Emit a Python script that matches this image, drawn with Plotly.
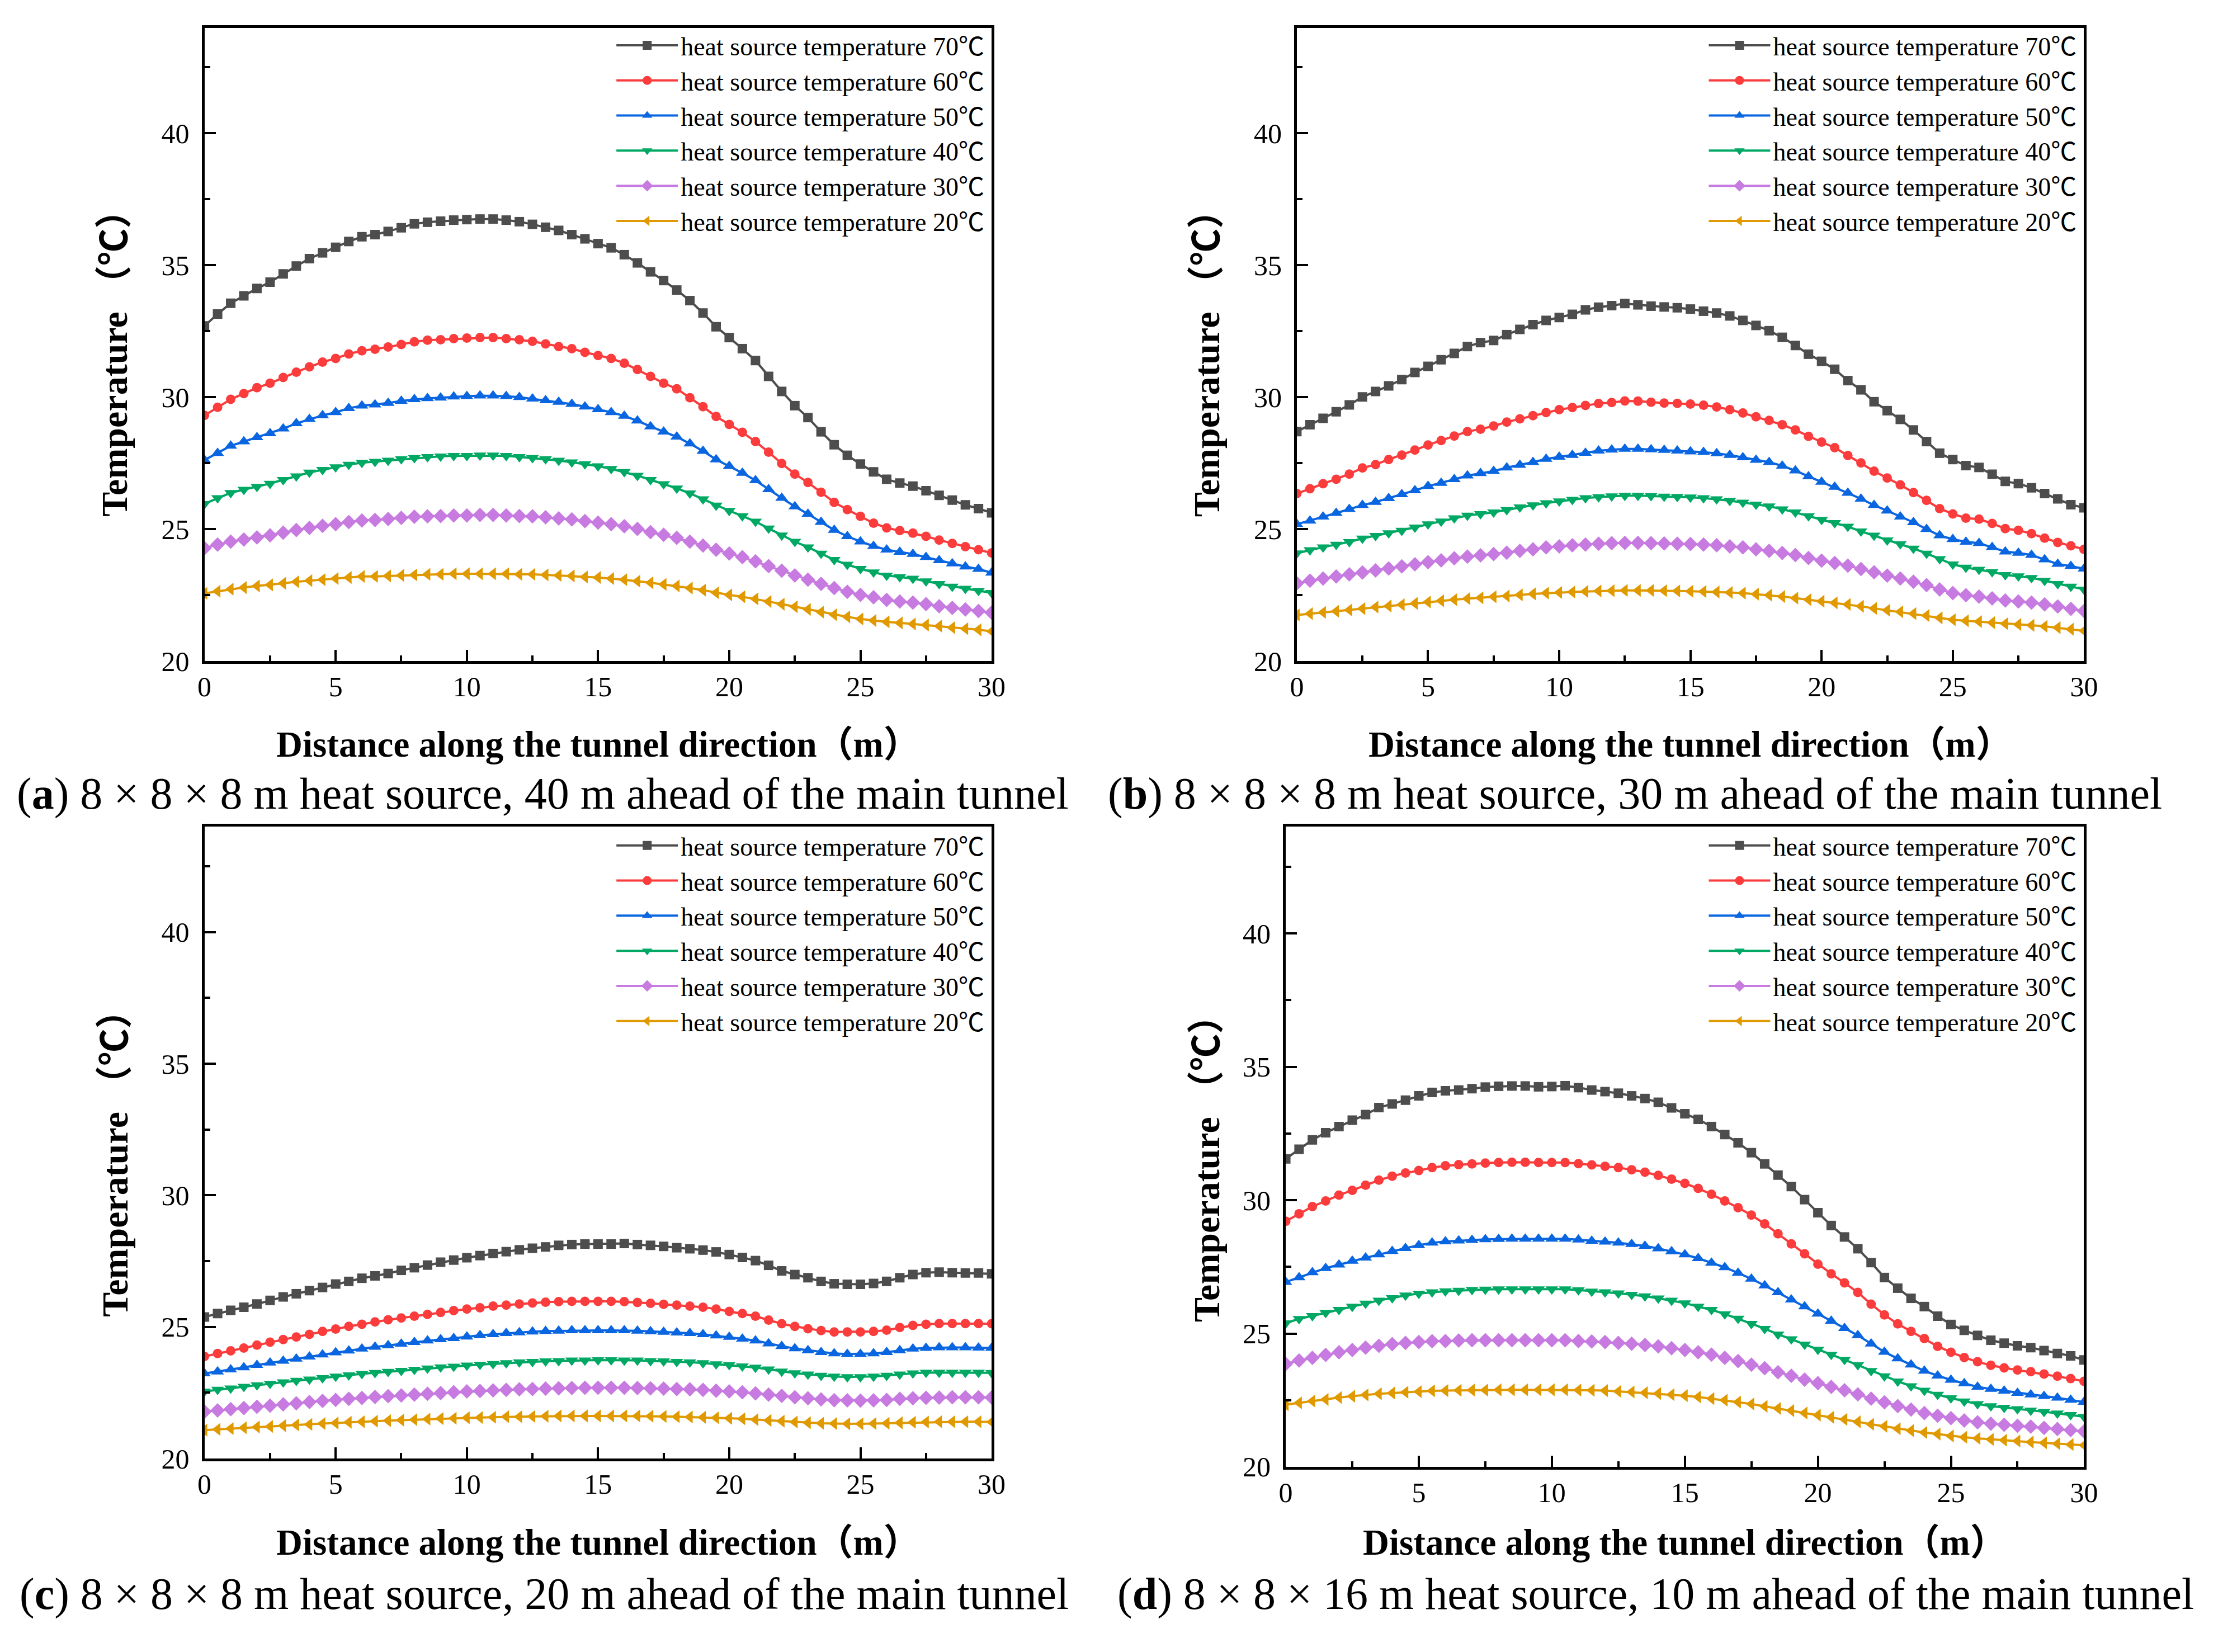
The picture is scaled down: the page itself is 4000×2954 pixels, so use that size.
import plotly.graph_objects as go
from plotly.subplots import make_subplots

# distance along the tunnel (m), one reading every 0.5 m
DISTANCE = [
    0.0, 0.5, 1.0, 1.5, 2.0, 2.5, 3.0, 3.5, 4.0, 4.5,
    5.0, 5.5, 6.0, 6.5, 7.0, 7.5, 8.0, 8.5, 9.0, 9.5,
    10.0, 10.5, 11.0, 11.5, 12.0, 12.5, 13.0, 13.5, 14.0, 14.5,
    15.0, 15.5, 16.0, 16.5, 17.0, 17.5, 18.0, 18.5, 19.0, 19.5,
    20.0, 20.5, 21.0, 21.5, 22.0, 22.5, 23.0, 23.5, 24.0, 24.5,
    25.0, 25.5, 26.0, 26.5, 27.0, 27.5, 28.0, 28.5, 29.0, 29.5,
    30.0,
]

SOURCE_TEMPS = [70, 60, 50, 40, 30, 20]

# (a) 8x8x8 m, 40 m ahead
A_70 = [32.70, 33.15, 33.56, 33.84, 34.12, 34.36, 34.67, 34.97, 35.25, 35.47,
        35.68, 35.90, 36.08, 36.16, 36.28, 36.42, 36.57, 36.63, 36.67, 36.71,
        36.73, 36.75, 36.75, 36.71, 36.65, 36.55, 36.44, 36.32, 36.16, 36.00,
        35.82, 35.66, 35.40, 35.09, 34.75, 34.42, 34.06, 33.66, 33.19, 32.67,
        32.26, 31.84, 31.39, 30.79, 30.22, 29.68, 29.23, 28.69, 28.20, 27.80,
        27.47, 27.17, 26.89, 26.75, 26.63, 26.46, 26.28, 26.10, 25.92, 25.78,
        25.62]
A_60 = [29.31, 29.62, 29.92, 30.14, 30.36, 30.53, 30.75, 30.95, 31.15, 31.33,
        31.47, 31.64, 31.76, 31.82, 31.90, 32.00, 32.10, 32.16, 32.18, 32.22,
        32.24, 32.26, 32.26, 32.22, 32.18, 32.12, 32.02, 31.92, 31.84, 31.70,
        31.58, 31.47, 31.29, 31.05, 30.79, 30.53, 30.32, 29.98, 29.64, 29.27,
        28.97, 28.67, 28.32, 27.92, 27.49, 27.09, 26.77, 26.40, 26.02, 25.74,
        25.49, 25.23, 25.05, 24.95, 24.85, 24.73, 24.59, 24.46, 24.34, 24.22,
        24.10]
A_50 = [27.62, 27.88, 28.16, 28.32, 28.48, 28.63, 28.81, 29.01, 29.17, 29.31,
        29.43, 29.58, 29.68, 29.72, 29.78, 29.86, 29.92, 29.96, 29.98, 30.02,
        30.04, 30.06, 30.06, 30.04, 30.00, 29.94, 29.88, 29.82, 29.74, 29.64,
        29.54, 29.43, 29.29, 29.11, 28.89, 28.69, 28.50, 28.24, 27.96, 27.64,
        27.39, 27.13, 26.85, 26.51, 26.18, 25.86, 25.58, 25.27, 24.97, 24.73,
        24.53, 24.36, 24.22, 24.14, 24.06, 23.94, 23.82, 23.70, 23.58, 23.49,
        23.35]
A_40 = [25.96, 26.18, 26.38, 26.50, 26.61, 26.73, 26.87, 27.01, 27.15, 27.25,
        27.35, 27.45, 27.52, 27.56, 27.60, 27.66, 27.70, 27.74, 27.76, 27.78,
        27.78, 27.80, 27.80, 27.78, 27.74, 27.70, 27.66, 27.60, 27.54, 27.47,
        27.39, 27.29, 27.17, 27.03, 26.87, 26.71, 26.55, 26.36, 26.14, 25.90,
        25.70, 25.50, 25.29, 25.03, 24.77, 24.53, 24.32, 24.08, 23.84, 23.66,
        23.50, 23.37, 23.25, 23.19, 23.13, 23.03, 22.93, 22.83, 22.75, 22.67,
        22.59]
A_30 = [24.28, 24.42, 24.53, 24.61, 24.69, 24.77, 24.87, 24.97, 25.05, 25.13,
        25.19, 25.27, 25.33, 25.35, 25.39, 25.43, 25.47, 25.49, 25.50, 25.52,
        25.52, 25.54, 25.54, 25.52, 25.50, 25.49, 25.45, 25.41, 25.37, 25.31,
        25.25, 25.19, 25.11, 25.01, 24.89, 24.79, 24.67, 24.53, 24.38, 24.22,
        24.08, 23.94, 23.78, 23.60, 23.43, 23.25, 23.09, 22.93, 22.77, 22.63,
        22.51, 22.42, 22.32, 22.26, 22.22, 22.16, 22.08, 22.02, 21.96, 21.90,
        21.84]
A_20 = [22.57, 22.65, 22.73, 22.79, 22.85, 22.89, 22.95, 23.01, 23.05, 23.09,
        23.13, 23.17, 23.21, 23.21, 23.23, 23.25, 23.27, 23.29, 23.29, 23.31,
        23.31, 23.31, 23.31, 23.31, 23.29, 23.29, 23.27, 23.25, 23.23, 23.19,
        23.17, 23.13, 23.09, 23.03, 22.97, 22.91, 22.85, 22.77, 22.69, 22.59,
        22.51, 22.44, 22.36, 22.26, 22.16, 22.06, 21.96, 21.86, 21.76, 21.68,
        21.60, 21.54, 21.49, 21.45, 21.41, 21.37, 21.33, 21.27, 21.23, 21.19,
        21.13]

# (b) 8x8x8 m, 30 m ahead
B_70 = [28.70, 28.96, 29.20, 29.45, 29.71, 30.01, 30.22, 30.43, 30.67, 30.94,
        31.17, 31.42, 31.66, 31.92, 32.07, 32.15, 32.37, 32.57, 32.75, 32.91,
        33.02, 33.14, 33.31, 33.41, 33.47, 33.55, 33.50, 33.45, 33.42, 33.39,
        33.34, 33.26, 33.19, 33.08, 32.91, 32.72, 32.52, 32.27, 31.96, 31.63,
        31.36, 31.06, 30.63, 30.28, 29.83, 29.49, 29.16, 28.76, 28.32, 27.88,
        27.64, 27.41, 27.34, 27.08, 26.81, 26.73, 26.57, 26.35, 26.15, 25.93,
        25.81]
B_60 = [26.35, 26.53, 26.72, 26.89, 27.09, 27.32, 27.45, 27.64, 27.81, 28.00,
        28.19, 28.36, 28.53, 28.70, 28.79, 28.91, 29.06, 29.18, 29.30, 29.42,
        29.53, 29.61, 29.69, 29.76, 29.80, 29.86, 29.85, 29.81, 29.78, 29.77,
        29.74, 29.70, 29.63, 29.53, 29.40, 29.26, 29.12, 28.96, 28.76, 28.52,
        28.30, 28.09, 27.79, 27.51, 27.20, 26.94, 26.68, 26.39, 26.09, 25.78,
        25.58, 25.42, 25.38, 25.22, 25.02, 24.96, 24.83, 24.66, 24.50, 24.37,
        24.24]
B_50 = [25.19, 25.32, 25.47, 25.61, 25.76, 25.91, 26.03, 26.17, 26.32, 26.47,
        26.63, 26.75, 26.89, 27.03, 27.12, 27.20, 27.33, 27.43, 27.54, 27.66,
        27.74, 27.81, 27.89, 27.97, 28.01, 28.04, 28.04, 28.02, 28.00, 27.97,
        27.94, 27.92, 27.87, 27.81, 27.72, 27.62, 27.54, 27.40, 27.22, 27.00,
        26.79, 26.60, 26.37, 26.15, 25.91, 25.70, 25.47, 25.26, 25.00, 24.76,
        24.62, 24.52, 24.47, 24.32, 24.15, 24.10, 24.02, 23.85, 23.68, 23.60,
        23.50]
B_40 = [24.09, 24.21, 24.32, 24.42, 24.52, 24.65, 24.75, 24.85, 24.95, 25.07,
        25.19, 25.30, 25.42, 25.52, 25.58, 25.64, 25.73, 25.83, 25.91, 25.99,
        26.06, 26.12, 26.18, 26.22, 26.25, 26.27, 26.27, 26.26, 26.24, 26.23,
        26.21, 26.18, 26.14, 26.08, 26.01, 25.94, 25.87, 25.76, 25.64, 25.50,
        25.36, 25.24, 25.10, 24.92, 24.76, 24.58, 24.44, 24.27, 24.08, 23.87,
        23.67, 23.55, 23.47, 23.38, 23.27, 23.22, 23.16, 23.05, 22.93, 22.83,
        22.72]
B_30 = [22.95, 23.05, 23.13, 23.21, 23.29, 23.36, 23.44, 23.51, 23.59, 23.67,
        23.75, 23.82, 23.90, 23.96, 24.01, 24.06, 24.11, 24.18, 24.24, 24.31,
        24.35, 24.39, 24.42, 24.45, 24.47, 24.48, 24.48, 24.47, 24.46, 24.45,
        24.44, 24.42, 24.39, 24.35, 24.31, 24.24, 24.18, 24.10, 24.02, 23.91,
        23.81, 23.72, 23.62, 23.49, 23.37, 23.24, 23.13, 23.01, 22.88, 22.72,
        22.58, 22.50, 22.45, 22.38, 22.30, 22.26, 22.22, 22.15, 22.07, 21.98,
        21.90]
B_20 = [21.75, 21.80, 21.85, 21.89, 21.94, 21.99, 22.05, 22.09, 22.14, 22.19,
        22.24, 22.29, 22.33, 22.37, 22.40, 22.44, 22.47, 22.51, 22.55, 22.58,
        22.60, 22.62, 22.64, 22.66, 22.67, 22.68, 22.68, 22.68, 22.67, 22.66,
        22.65, 22.64, 22.62, 22.60, 22.58, 22.54, 22.50, 22.45, 22.39, 22.33,
        22.27, 22.21, 22.15, 22.08, 22.00, 21.93, 21.87, 21.80, 21.73, 21.64,
        21.57, 21.53, 21.50, 21.46, 21.42, 21.39, 21.36, 21.32, 21.27, 21.21,
        21.15]

# (c) 8x8x8 m, 20 m ahead
C_70 = [25.38, 25.51, 25.63, 25.75, 25.87, 26.01, 26.14, 26.26, 26.38, 26.50,
        26.63, 26.73, 26.85, 26.94, 27.03, 27.15, 27.25, 27.35, 27.46, 27.54,
        27.63, 27.71, 27.79, 27.86, 27.93, 27.99, 28.04, 28.10, 28.13, 28.15,
        28.15, 28.15, 28.17, 28.13, 28.10, 28.06, 28.01, 27.97, 27.92, 27.85,
        27.75, 27.64, 27.52, 27.34, 27.13, 26.99, 26.87, 26.73, 26.64, 26.62,
        26.62, 26.65, 26.73, 26.87, 26.99, 27.06, 27.08, 27.06, 27.05, 27.05,
        27.02]
C_60 = [23.88, 23.99, 24.09, 24.20, 24.31, 24.42, 24.52, 24.62, 24.72, 24.83,
        24.92, 25.02, 25.10, 25.19, 25.27, 25.34, 25.41, 25.48, 25.55, 25.62,
        25.68, 25.73, 25.79, 25.83, 25.87, 25.91, 25.94, 25.96, 25.97, 25.97,
        25.97, 25.97, 25.96, 25.93, 25.90, 25.86, 25.83, 25.79, 25.75, 25.68,
        25.59, 25.51, 25.41, 25.26, 25.12, 25.02, 24.93, 24.86, 24.81, 24.81,
        24.81, 24.83, 24.88, 24.98, 25.06, 25.10, 25.13, 25.13, 25.13, 25.13,
        25.12]
C_50 = [23.23, 23.30, 23.38, 23.46, 23.55, 23.64, 23.71, 23.79, 23.87, 23.95,
        24.03, 24.10, 24.17, 24.24, 24.30, 24.36, 24.42, 24.48, 24.53, 24.57,
        24.63, 24.68, 24.72, 24.76, 24.79, 24.82, 24.84, 24.85, 24.87, 24.87,
        24.87, 24.87, 24.87, 24.85, 24.83, 24.81, 24.78, 24.76, 24.72, 24.67,
        24.62, 24.55, 24.48, 24.37, 24.27, 24.18, 24.11, 24.04, 23.99, 23.97,
        23.97, 23.99, 24.04, 24.11, 24.17, 24.20, 24.22, 24.22, 24.22, 24.21,
        24.20]
C_40 = [22.55, 22.62, 22.67, 22.73, 22.79, 22.85, 22.90, 22.96, 23.01, 23.06,
        23.12, 23.17, 23.22, 23.26, 23.30, 23.34, 23.38, 23.43, 23.47, 23.50,
        23.54, 23.57, 23.60, 23.63, 23.66, 23.68, 23.70, 23.71, 23.73, 23.73,
        23.74, 23.74, 23.73, 23.73, 23.71, 23.70, 23.68, 23.66, 23.63, 23.59,
        23.56, 23.51, 23.46, 23.39, 23.31, 23.25, 23.20, 23.15, 23.12, 23.10,
        23.10, 23.12, 23.15, 23.20, 23.24, 23.27, 23.27, 23.27, 23.27, 23.27,
        23.26]
C_30 = [21.78, 21.83, 21.88, 21.92, 21.97, 22.01, 22.06, 22.10, 22.15, 22.19,
        22.23, 22.27, 22.30, 22.34, 22.37, 22.40, 22.43, 22.46, 22.49, 22.52,
        22.55, 22.57, 22.59, 22.61, 22.63, 22.64, 22.66, 22.67, 22.68, 22.69,
        22.69, 22.69, 22.69, 22.68, 22.67, 22.66, 22.64, 22.63, 22.61, 22.58,
        22.55, 22.52, 22.48, 22.43, 22.38, 22.33, 22.29, 22.25, 22.22, 22.21,
        22.20, 22.21, 22.23, 22.27, 22.29, 22.31, 22.32, 22.33, 22.33, 22.33,
        22.32]
C_20 = [21.08, 21.11, 21.14, 21.17, 21.20, 21.22, 21.25, 21.28, 21.30, 21.33,
        21.35, 21.38, 21.40, 21.42, 21.44, 21.46, 21.48, 21.50, 21.52, 21.53,
        21.55, 21.56, 21.57, 21.59, 21.59, 21.60, 21.61, 21.62, 21.62, 21.62,
        21.62, 21.62, 21.62, 21.62, 21.61, 21.60, 21.59, 21.58, 21.57, 21.55,
        21.53, 21.51, 21.48, 21.45, 21.42, 21.39, 21.36, 21.34, 21.33, 21.32,
        21.32, 21.33, 21.34, 21.36, 21.38, 21.39, 21.40, 21.40, 21.40, 21.40,
        21.39]

# (d) 8x8x16 m, 10 m ahead
D_70 = [31.55, 31.91, 32.26, 32.53, 32.76, 33.00, 33.21, 33.47, 33.61, 33.75,
        33.91, 34.04, 34.10, 34.13, 34.18, 34.24, 34.27, 34.28, 34.28, 34.25,
        34.26, 34.29, 34.22, 34.13, 34.07, 34.01, 33.91, 33.81, 33.67, 33.46,
        33.24, 33.03, 32.76, 32.46, 32.15, 31.78, 31.36, 30.94, 30.51, 30.02,
        29.53, 29.05, 28.62, 28.18, 27.66, 27.10, 26.70, 26.32, 26.01, 25.65,
        25.34, 25.12, 24.93, 24.75, 24.64, 24.54, 24.47, 24.36, 24.25, 24.16,
        24.01]
D_60 = [29.21, 29.49, 29.76, 29.97, 30.19, 30.37, 30.56, 30.75, 30.90, 31.02,
        31.11, 31.22, 31.29, 31.33, 31.36, 31.39, 31.41, 31.42, 31.42, 31.41,
        31.41, 31.41, 31.37, 31.32, 31.27, 31.22, 31.14, 31.05, 30.93, 30.79,
        30.63, 30.44, 30.22, 29.97, 29.72, 29.44, 29.11, 28.74, 28.36, 27.99,
        27.60, 27.24, 26.90, 26.54, 26.10, 25.70, 25.36, 25.08, 24.81, 24.52,
        24.30, 24.10, 23.94, 23.81, 23.71, 23.63, 23.57, 23.48, 23.40, 23.31,
        23.21]
D_50 = [26.93, 27.10, 27.29, 27.45, 27.58, 27.72, 27.84, 27.96, 28.09, 28.20,
        28.31, 28.40, 28.45, 28.48, 28.50, 28.53, 28.54, 28.55, 28.55, 28.55,
        28.55, 28.55, 28.52, 28.47, 28.44, 28.40, 28.35, 28.28, 28.19, 28.08,
        27.96, 27.82, 27.65, 27.48, 27.27, 27.05, 26.80, 26.54, 26.27, 26.01,
        25.74, 25.47, 25.20, 24.93, 24.62, 24.31, 24.06, 23.83, 23.60, 23.42,
        23.26, 23.13, 23.00, 22.92, 22.85, 22.77, 22.71, 22.65, 22.59, 22.51,
        22.43]
D_40 = [25.39, 25.55, 25.66, 25.78, 25.89, 26.01, 26.13, 26.24, 26.33, 26.43,
        26.50, 26.55, 26.59, 26.61, 26.64, 26.65, 26.66, 26.66, 26.66, 26.66,
        26.66, 26.66, 26.63, 26.58, 26.55, 26.51, 26.46, 26.40, 26.32, 26.24,
        26.14, 26.01, 25.89, 25.73, 25.56, 25.37, 25.18, 24.97, 24.79, 24.59,
        24.40, 24.21, 24.02, 23.82, 23.60, 23.40, 23.21, 23.03, 22.86, 22.71,
        22.58, 22.46, 22.36, 22.28, 22.22, 22.17, 22.12, 22.07, 22.01, 21.95,
        21.88]
D_30 = [23.86, 23.99, 24.09, 24.20, 24.30, 24.38, 24.47, 24.54, 24.60, 24.65,
        24.68, 24.71, 24.72, 24.74, 24.75, 24.75, 24.75, 24.75, 24.75, 24.75,
        24.75, 24.75, 24.72, 24.70, 24.68, 24.65, 24.62, 24.57, 24.52, 24.45,
        24.38, 24.30, 24.21, 24.09, 23.97, 23.83, 23.70, 23.55, 23.42, 23.27,
        23.14, 23.00, 22.87, 22.72, 22.56, 22.42, 22.28, 22.15, 22.02, 21.92,
        21.83, 21.74, 21.67, 21.62, 21.58, 21.54, 21.51, 21.46, 21.42, 21.38,
        21.33]
D_20 = [22.33, 22.40, 22.47, 22.53, 22.60, 22.65, 22.70, 22.74, 22.77, 22.80,
        22.82, 22.85, 22.86, 22.87, 22.88, 22.88, 22.89, 22.89, 22.89, 22.89,
        22.89, 22.89, 22.88, 22.87, 22.86, 22.83, 22.81, 22.78, 22.75, 22.71,
        22.67, 22.62, 22.56, 22.50, 22.43, 22.36, 22.27, 22.19, 22.11, 22.02,
        21.94, 21.86, 21.78, 21.69, 21.60, 21.52, 21.43, 21.36, 21.29, 21.23,
        21.16, 21.11, 21.07, 21.03, 21.00, 20.97, 20.93, 20.90, 20.87, 20.84,
        20.81]

CAPTIONS = [
    "(<b>a</b>) 8 × 8 × 8 m heat source, 40 m ahead of the main tunnel",
    "(<b>b</b>) 8 × 8 × 8 m heat source, 30 m ahead of the main tunnel",
    "(<b>c</b>) 8 × 8 × 8 m heat source, 20 m ahead of the main tunnel",
    "(<b>d</b>) 8 × 8 × 16 m heat source, 10 m ahead of the main tunnel",
]
X_TITLE = "<b>Distance along the tunnel direction（m）</b>"
Y_TITLE = "<b>Temperature （℃）</b>"

PANELS = [
    [A_70, A_60, A_50, A_40, A_30, A_20],
    [B_70, B_60, B_50, B_40, B_30, B_20],
    [C_70, C_60, C_50, C_40, C_30, C_20],
    [D_70, D_60, D_50, D_40, D_30, D_20],
]

COLORS = ["#4d4d4d", "#fa3c3c", "#0a66e0", "#00a864", "#c77ae0", "#e09a00"]
SYMBOLS = ["square", "circle", "triangle-up", "triangle-down", "diamond", "triangle-left"]
SIZES = [17, 17, 20, 20, 20, 20]

W, H = 4000, 2954
SERIF = "Liberation Serif, Noto Sans CJK SC, serif"

# plot area boxes in pixels: left, right, top, bottom
BOXES = [
    (356, 1777, 50, 1194),
    (2328, 3749, 50, 1194),
    (356, 1777, 1493, 2634),
    (2308, 3749, 1493, 2649),
]

fig = make_subplots(rows=2, cols=2)

for i, series in enumerate(PANELS):
    row, col = i // 2 + 1, i % 2 + 1
    legend_id = "legend" if i == 0 else f"legend{i + 1}"
    for temp, values, color, symbol, size in zip(SOURCE_TEMPS, series, COLORS, SYMBOLS, SIZES):
        fig.add_trace(
            go.Scatter(
                x=DISTANCE,
                y=values,
                mode="lines+markers",
                name=f"heat source temperature {temp}℃",
                line=dict(color=color, width=4),
                marker=dict(symbol=symbol, size=size, color=color),
                legend=legend_id,
            ),
            row=row,
            col=col,
        )

axis_common = dict(
    showline=True,
    linewidth=5,
    linecolor="black",
    mirror=True,
    showgrid=False,
    zeroline=False,
    ticks="inside",
    ticklen=20,
    tickwidth=4,
    tickcolor="black",
    tickfont=dict(family=SERIF, size=50, color="black"),
)

layout = dict(
    width=W,
    height=H,
    margin=dict(l=0, r=0, t=0, b=0),
    paper_bgcolor="white",
    plot_bgcolor="white",
    annotations=[],
)

legend_top = [45, 45, 1490, 1490]

for i, (left, right, top, bottom) in enumerate(BOXES):
    suffix = "" if i == 0 else str(i + 1)
    layout[f"xaxis{suffix}"] = dict(
        axis_common,
        domain=[left / W, right / W],
        range=[0, 30],
        tick0=0,
        dtick=5,
        ticklabelstandoff=-2,
        minor=dict(ticks="inside", ticklen=10, tickwidth=4, tickcolor="black", dtick=2.5),
    )
    layout[f"yaxis{suffix}"] = dict(
        axis_common,
        domain=[1 - bottom / H, 1 - top / H],
        range=[20, 44],
        tick0=20,
        dtick=5,
        ticklabelstandoff=12,
        minor=dict(ticks="inside", ticklen=10, tickwidth=4, tickcolor="black", dtick=2.5),
    )
    legend_key = "legend" if i == 0 else f"legend{i + 1}"
    layout[legend_key] = dict(
        x=(right - 8) / W,
        y=1 - legend_top[i] / H,
        xanchor="right",
        yanchor="top",
        bgcolor="rgba(0,0,0,0)",
        font=dict(family=SERIF, size=46, color="black"),
        itemwidth=110,
        tracegroupgap=0,
    )

# axis titles and captions (pixel positions)
x_title_y = [1344, 1344, 2785, 2785]
caption_y = [1434, 1434, 2879, 2879]
caption_x = [967, 2938, 969, 2976]
y_title_x = [194, 2165, 194, 2165]
y_title_y = [640, 640, 2085, 2094]

for i, (left, right, top, bottom) in enumerate(BOXES):
    layout["annotations"].append(dict(
        text=X_TITLE, xref="paper", yref="paper",
        x=(left + right) / 2 / W, y=1 - x_title_y[i] / H,
        xanchor="center", yanchor="middle", showarrow=False,
        font=dict(family=SERIF, size=65, color="black"),
    ))
    layout["annotations"].append(dict(
        text=Y_TITLE, xref="paper", yref="paper",
        x=y_title_x[i] / W, y=1 - y_title_y[i] / H,
        xanchor="center", yanchor="middle", showarrow=False, textangle=-90,
        font=dict(family=SERIF, size=66, color="black"),
    ))
    layout["annotations"].append(dict(
        text=CAPTIONS[i], xref="paper", yref="paper",
        x=caption_x[i] / W, y=1 - caption_y[i] / H,
        xanchor="center", yanchor="middle", showarrow=False,
        font=dict(family=SERIF, size=80, color="black"),
    ))

fig.update_layout(**layout)

fig.write_html(
    "out.html",
    config={"displayModeBar": False},
    post_script="document.body.style.margin='0';",
)
